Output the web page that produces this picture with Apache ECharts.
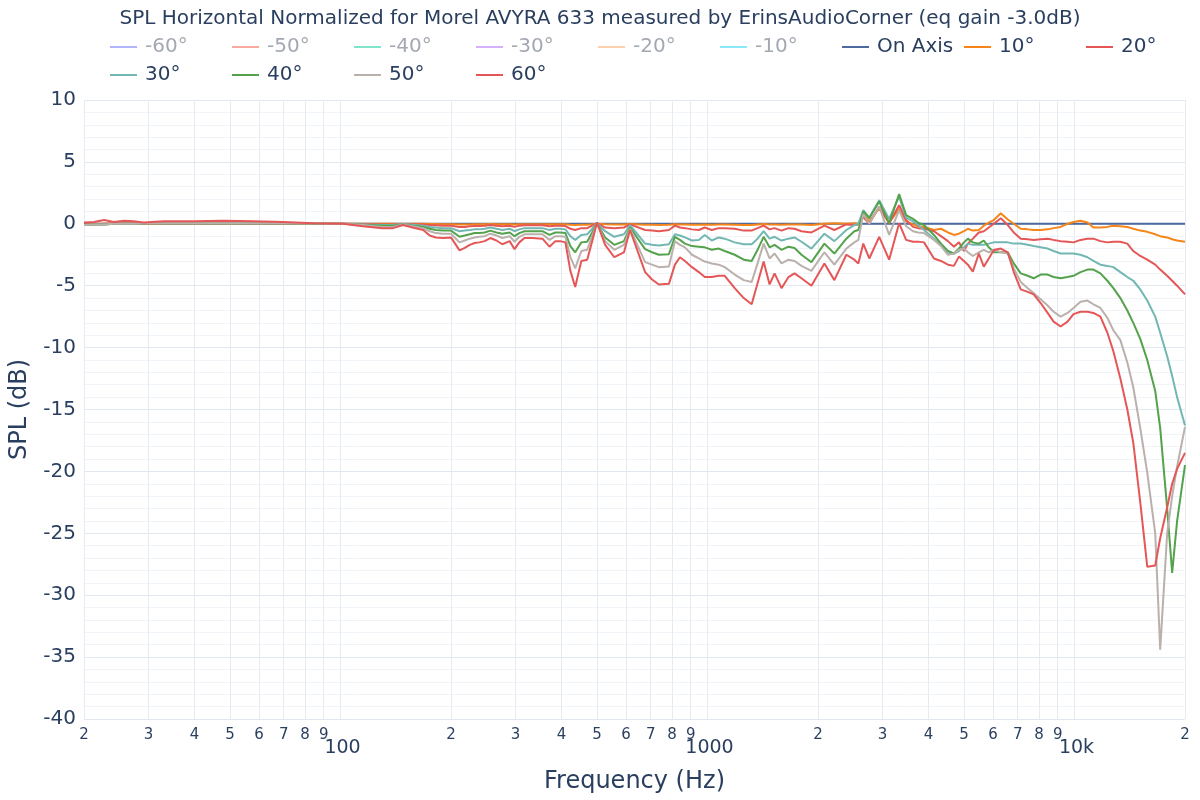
<!DOCTYPE html>
<html>
<head>
<meta charset="utf-8">
<script src="https://cdn.jsdelivr.net/npm/echarts@6/dist/echarts.min.js"></script>
<style>
html,body{margin:0;padding:0;background:#ffffff;}
#chart{width:1200px;height:800px;}
</style>
</head>
<body>
<div id="chart"></div>
<script>
// Frequencies (Hz)
const freq = [
  20, 21.3, 22.7, 24.1, 25.7, 27.3, 29.1, 33, 39.8, 48,
  57.9, 69.8, 84.2, 101.6, 115, 130, 139, 148, 157, 168,
  175, 182, 190, 200, 211, 218, 225, 232, 239, 247,
  256, 266, 276, 289, 298, 307, 317, 333, 355, 371,
  385, 397, 410, 423, 436, 453, 470, 485, 500, 526,
  557, 592, 615, 676, 706, 737, 785, 815, 841, 868,
  907, 947, 983, 1027, 1073, 1114, 1186, 1255, 1319, 1369,
  1422, 1476, 1523, 1591, 1662, 1726, 1803, 1919, 2082, 2216,
  2389, 2512, 2576, 2657, 2759, 2936, 3125, 3327, 3476, 3631,
  3746, 3890, 4140, 4326, 4520, 4693, 4842, 4996, 5122, 5284,
  5486, 5660, 5840, 6025, 6296, 6578, 6830, 7136, 7455, 7739,
  8085, 8447, 8770, 9162, 9572, 9937, 10382, 10846, 11260, 11764,
  12290, 12760, 13332, 13928, 14459, 15106, 15782, 16592, 17118, 17884,
  18452, 19034, 20000
];

const splOnAxis = [
  0, 0, 0, 0, 0, 0, 0, 0, 0, 0,
  0, 0, 0, 0, 0, 0, 0, 0, 0, 0,
  0, 0, 0, 0, 0, 0, 0, 0, 0, 0,
  0, 0, 0, 0, 0, 0, 0, 0, 0, 0,
  0, 0, 0, 0, 0, 0, 0, 0, 0, 0,
  0, 0, 0, 0, 0, 0, 0, 0, 0, 0,
  0, 0, 0, 0, 0, 0, 0, 0, 0, 0,
  0, 0, 0, 0, 0, 0, 0, 0, 0, 0,
  0, 0, 0, 0, 0, 0, 0, 0, 0, 0,
  0, 0, 0, 0, 0, 0, 0, 0, 0, 0,
  0, 0, 0, 0, 0, 0, 0, 0, 0, 0,
  0, 0, 0, 0, 0, 0, 0, 0, 0, 0,
  0, 0, 0, 0, 0, 0, 0, 0, 0, 0,
  0, 0, 0
];

const spl10 = [
  -0.05, -0.05, 0, 0, 0, 0, 0, 0.02, 0.02, 0.02,
  0.02, 0.02, 0, 0, 0, 0, 0, 0, 0, 0,
  -0.02, -0.02, -0.03, -0.03, -0.05, -0.05, -0.05, -0.04, -0.04, -0.03,
  -0.02, -0.03, -0.04, -0.03, -0.05, -0.04, -0.03, -0.03, -0.03, -0.04,
  -0.03, -0.03, -0.04, -0.08, -0.1, -0.08, -0.08, -0.04, 0, -0.03,
  -0.05, -0.05, -0.02, -0.08, -0.08, -0.1, -0.08, -0.03, -0.05, -0.05,
  -0.08, -0.08, -0.05, -0.08, -0.06, -0.06, -0.08, -0.1, -0.1, -0.06,
  -0.02, -0.05, -0.05, -0.08, -0.05, -0.05, -0.05, -0.1, 0, 0.05,
  0, 0.05, 0, 0.8, 0.2, 1.25, 0.1, 1.2, 0.2, -0.05,
  -0.2, -0.25, -0.5, -0.4, -0.7, -0.9, -0.8, -0.6, -0.4, -0.55,
  -0.5, -0.15, 0.1, 0.3, 0.85, 0.35, 0, -0.4, -0.45, -0.5,
  -0.5, -0.45, -0.35, -0.25, 0, 0.15, 0.25, 0.1, -0.3, -0.3,
  -0.25, -0.15, -0.2, -0.25, -0.4, -0.55, -0.65, -0.85, -1.0, -1.1,
  -1.25, -1.35, -1.45
];

const spl20 = [
  -0.05, 0, 0, 0.05, 0.05, 0.05, 0.05, 0.05, 0.05, 0.05,
  0.05, 0.05, 0.02, 0, -0.02, -0.05, -0.05, -0.02, -0.03, -0.05,
  -0.1, -0.12, -0.15, -0.15, -0.25, -0.25, -0.2, -0.18, -0.18, -0.15,
  -0.1, -0.15, -0.2, -0.15, -0.25, -0.15, -0.12, -0.12, -0.12, -0.2,
  -0.15, -0.15, -0.18, -0.4, -0.5, -0.35, -0.35, -0.15, 0.05, -0.3,
  -0.35, -0.3, -0.05, -0.5, -0.55, -0.6, -0.5, -0.15, -0.3, -0.35,
  -0.45, -0.5, -0.3, -0.5, -0.35, -0.35, -0.4, -0.55, -0.55, -0.35,
  -0.15, -0.45, -0.35, -0.55, -0.35, -0.4, -0.6, -0.7, -0.15, -0.5,
  -0.05, -0.1, -0.05, 0.55, 0, 1.4, 0.05, 1.5, 0.3, -0.25,
  -0.35, -0.4, -0.6, -1.0, -1.4, -1.85, -1.5, -2.2, -1.6, -1.2,
  -0.7, -0.6, -0.3, 0, 0.45, -0.1, -0.7, -1.2, -1.25, -1.3,
  -1.25, -1.2, -1.3, -1.4, -1.45, -1.5, -1.3, -1.2, -1.2, -1.4,
  -1.5, -1.45, -1.45, -1.6, -2.2, -2.6, -2.9, -3.3, -3.7, -4.2,
  -4.6, -5.0, -5.7
];

const spl30 = [
  -0.1, -0.05, -0.05, 0, 0, 0, 0.05, 0.05, 0.05, 0.05,
  0.05, 0.05, 0.02, 0, -0.05, -0.1, -0.1, -0.02, -0.08, -0.15,
  -0.25, -0.3, -0.35, -0.35, -0.6, -0.55, -0.5, -0.45, -0.45, -0.4,
  -0.3, -0.4, -0.5, -0.4, -0.6, -0.45, -0.35, -0.35, -0.35, -0.5,
  -0.4, -0.4, -0.45, -1.0, -1.3, -0.9, -0.85, -0.4, 0.05, -0.6,
  -1.05, -0.85, -0.1, -1.6, -1.7, -1.75, -1.65, -0.85, -0.95, -1.1,
  -1.35, -1.3, -0.9, -1.35, -1.1, -1.2, -1.5, -1.65, -1.65, -1.2,
  -0.6, -1.2, -1.05, -1.35, -1.2, -1.1, -1.45, -2.0, -0.8, -1.4,
  -0.5, -0.1, 0, 1.1, 0.5, 1.9, 0.4, 2.2, 0.5, 0.2,
  -0.1, -0.5, -1.2, -1.7, -2.4, -2.4, -2.2, -1.9, -1.6, -1.7,
  -1.7, -1.7, -1.6, -1.5, -1.5, -1.5, -1.6, -1.6, -1.7, -1.8,
  -1.9, -2.0, -2.2, -2.4, -2.4, -2.4, -2.5, -2.7, -3.0, -3.3,
  -3.4, -3.5, -3.9, -4.3, -4.6, -5.3, -6.2, -7.5, -8.8, -10.7,
  -12.3, -14.0, -16.3
];

const spl40 = [
  -0.1, -0.05, -0.05, 0, 0, 0, 0.05, 0.05, 0.05, 0.05,
  0.05, 0.05, 0.02, 0, -0.08, -0.15, -0.15, -0.05, -0.15, -0.25,
  -0.4, -0.5, -0.55, -0.55, -1.05, -0.95, -0.85, -0.75, -0.75, -0.7,
  -0.55, -0.7, -0.8, -0.7, -1.0, -0.75, -0.6, -0.6, -0.6, -0.9,
  -0.7, -0.7, -0.75, -1.8, -2.3, -1.5, -1.45, -0.7, 0.05, -1.1,
  -1.7, -1.4, -0.3, -2.05, -2.3, -2.5, -2.45, -1.05, -1.3, -1.6,
  -1.8, -1.85, -1.9, -2.1, -2.0, -2.2, -2.5, -2.9, -3.0, -2.1,
  -1.05, -1.9, -1.7, -2.1, -1.85, -1.95, -2.5, -3.1, -1.6, -2.4,
  -1.2, -0.6, -0.5, 1.0, 0.45, 1.8, 0.05, 2.4, 0.7, 0.4,
  0.1, -0.1, -0.9, -1.6, -2.2, -2.4, -2.0, -1.5, -1.2, -1.5,
  -1.6, -1.35, -1.9, -2.3, -2.3, -2.3, -3.2, -4.0, -4.2, -4.4,
  -4.1, -4.1, -4.3, -4.4, -4.3, -4.2, -3.9, -3.7, -3.7, -4.0,
  -4.6, -5.2, -6.0, -7.0, -8.0, -9.3, -11.0, -13.5, -16.5, -23.0,
  -28.2, -24.0, -19.5
];

const spl50 = [
  -0.1, -0.05, -0.05, 0, 0, 0, 0.05, 0.05, 0.05, 0.05,
  0.05, 0.05, 0.02, 0, -0.1, -0.25, -0.25, -0.05, -0.2, -0.35,
  -0.6, -0.75, -0.8, -0.8, -1.5, -1.35, -1.2, -1.1, -1.05, -1.0,
  -0.8, -0.95, -1.15, -1.0, -1.45, -1.05, -0.85, -0.85, -0.85, -1.3,
  -1.0, -1.0, -1.05, -2.7, -3.6, -2.2, -2.1, -1.0, 0.05, -1.4,
  -2.1, -1.7, -0.4, -3.1, -3.3, -3.5, -3.45, -1.4, -1.7, -1.9,
  -2.5, -2.8, -3.05, -3.2, -3.3, -3.5, -4.1, -4.55, -4.7, -3.2,
  -1.6, -2.8, -2.4, -3.2, -2.9, -3.0, -3.4, -3.8, -2.3, -3.3,
  -2.0, -1.5, -1.3, 0.8, 0, 1.4, -0.9, 1.1, -0.2, -0.6,
  -0.7, -0.75, -1.3, -1.8, -2.5, -2.4, -2.1, -2.0, -2.3, -2.6,
  -2.3, -2.1, -2.3, -2.1, -2.3, -2.4, -3.6, -4.7, -5.2, -5.6,
  -6.1, -6.6, -7.1, -7.5, -7.2, -6.8, -6.3, -6.2, -6.5, -6.8,
  -7.6, -8.6, -9.4, -11.2, -13.2, -16.5, -20.1, -25.0, -34.4, -25.0,
  -22.0, -19.6, -16.4
];

const spl60 = [
  0.1, 0.15, 0.3, 0.15, 0.25, 0.2, 0.1, 0.2, 0.2, 0.25,
  0.2, 0.15, 0.05, 0, -0.2, -0.35, -0.35, -0.1, -0.3, -0.5,
  -0.95, -1.1, -1.15, -1.1, -2.15, -1.95, -1.7, -1.55, -1.5, -1.4,
  -1.15, -1.35, -1.65, -1.4, -2.05, -1.5, -1.15, -1.15, -1.2, -1.85,
  -1.4, -1.4, -1.5, -3.8, -5.1, -3.0, -2.9, -1.4, 0.1, -1.7,
  -2.7, -2.3, -0.5, -3.9, -4.5, -4.9, -4.85, -3.3, -2.7, -3.0,
  -3.5, -3.9, -4.3, -4.3, -4.2, -4.2, -5.2, -6.0, -6.5, -4.8,
  -3.05, -4.9, -4.0, -5.2, -4.3, -4.0, -4.4, -5.0, -3.2, -4.55,
  -2.5, -2.9, -3.2, -1.6, -2.8, -1.05, -2.9, 0.05, -1.3, -1.45,
  -1.44, -1.5, -2.8, -3.0, -3.3, -3.4, -2.65, -3.0, -3.3, -3.86,
  -2.4, -3.46, -2.8, -2.12, -2.0, -2.3, -3.9, -5.3, -5.5, -5.7,
  -6.4, -7.2, -7.9, -8.3, -7.9, -7.3, -7.1, -7.1, -7.2, -7.5,
  -8.8, -10.3, -12.5, -15.0, -17.7, -22.5, -27.7, -27.6, -25.4, -22.9,
  -21.0, -19.8, -18.5
];

const seriesNames = ['-60°', '-50°', '-40°', '-30°', '-20°', '-10°', 'On Axis', '10°', '20°', '30°', '40°', '50°', '60°'];
const hiddenNames = ['-60°', '-50°', '-40°', '-30°', '-20°', '-10°'];
const seriesValues = {
  'On Axis': splOnAxis, '10°': spl10, '20°': spl20, '30°': spl30,
  '40°': spl40, '50°': spl50, '60°': spl60
};
const seriesColors = {
  '-60°': '#b1b6fc', '-50°': '#f7aa9d', '-40°': '#80e5cb', '-30°': '#d5b1fc',
  '-20°': '#ffd0ad', '-10°': '#8ce9f9',
  'On Axis': '#4c6a9e', '10°': '#f58518', '20°': '#e45756', '30°': '#72b7b2',
  '40°': '#54a24b', '50°': '#bab0ac', '60°': '#e45756'
};
const xTickValues = [
  20, 30, 40, 50, 60, 70, 80, 90,
  100, 200, 300, 400, 500, 600, 700, 800, 900,
  1000, 2000, 3000, 4000, 5000, 6000, 7000, 8000, 9000,
  10000, 20000
];

const FONT = 'Verdana, "DejaVu Sans", sans-serif';
const TXT = '#2a3f5f';

const chart = echarts.init(document.getElementById('chart'), null, { renderer: 'canvas' });

const series = seriesNames.map(function (name) {
  const vals = seriesValues[name] || [];
  return {
    name: name,
    type: 'line',
    xAxisIndex: 0,
    yAxisIndex: 0,
    showSymbol: false,
    symbol: 'none',
    animation: false,
    silent: true,
    color: seriesColors[name],
    itemStyle: { color: seriesColors[name] },
    lineStyle: { width: 2, color: seriesColors[name] },
    emphasis: { disabled: true },
    data: vals.map(function (v, i) { return [freq[i], v]; })
  };
});

const legendData = seriesNames.map(function (name) {
  if (hiddenNames.indexOf(name) >= 0) {
    return { name: name, textStyle: { color: '#a3a8b2' } };
  }
  return { name: name };
});

function xLabel(v) {
  const e = Math.floor(Math.log10(v) + 1e-9);
  const m = Math.round(v / Math.pow(10, e));
  if (m === 1) {
    return '{big|' + (v >= 10000 ? (v / 1000) + 'k' : v) + '}';
  }
  return '{small|' + m + '}';
}

const option = {
  backgroundColor: '#ffffff',
  animation: false,
  title: {
    text: 'SPL Horizontal Normalized for Morel AVYRA 633 measured by ErinsAudioCorner (eq gain -3.0dB)',
    left: 'center',
    top: 4,
    textStyle: { fontFamily: FONT, fontSize: 20, fontWeight: 'normal', color: TXT }
  },
  legend: {
    data: legendData,
    left: 110,
    top: 35,
    width: 1120,
    padding: 0,
    orient: 'horizontal',
    icon: 'rect',
    itemWidth: 27,
    itemHeight: 2,
    itemGap: 4,
    selectedMode: false,
    formatter: function (name) { return '{t|' + name + '}'; },
    textStyle: {
      fontFamily: FONT, fontSize: 20, color: TXT,
      rich: { t: { width: 83, fontFamily: FONT, fontSize: 20, lineHeight: 24, padding: [2, 0, 2, 3] } }
    }
  },
  grid: { left: 80, right: 15, top: 100, bottom: 81, containLabel: false },
  xAxis: [{
    type: 'log',
    logBase: 10,
    min: 20,
    max: 20000,
    name: 'Frequency (Hz)',
    nameLocation: 'middle',
    nameGap: 51,
    nameTextStyle: { fontFamily: FONT, fontSize: 24, color: TXT },
    axisLine: { show: false },
    axisTick: { show: false, customValues: xTickValues },
    axisLabel: {
      customValues: xTickValues,
      showMinLabel: true,
      showMaxLabel: true,
      margin: 7,
      formatter: xLabel,
      rich: {
        small: { fontFamily: FONT, fontSize: 15, lineHeight: 18, color: TXT },
        big: { fontFamily: FONT, fontSize: 19, lineHeight: 22, color: TXT, padding: [23, 0, 0, 4] }
      }
    },
    splitLine: { show: true, lineStyle: { color: '#e6ebf3', width: 1 } },
    minorTick: { show: false },
    minorSplitLine: { show: false }
  }],
  yAxis: [{
    type: 'value',
    min: -40,
    max: 10,
    interval: 5,
    name: 'SPL (dB)',
    nameLocation: 'middle',
    nameGap: 52,
    nameRotate: 90,
    nameTextStyle: { fontFamily: FONT, fontSize: 24, color: TXT },
    axisLine: { show: false },
    axisTick: { show: false },
    axisLabel: { fontFamily: FONT, fontSize: 20, color: TXT, margin: 8 },
    splitLine: { show: true, lineStyle: { color: '#e2e8f0', width: 1 } },
    minorTick: { show: false, splitNumber: 5 },
    minorSplitLine: { show: true, lineStyle: { color: '#f0f3f8', width: 1 } }
  }],
  series: series
};

chart.setOption(option);
</script>
</body>
</html>
